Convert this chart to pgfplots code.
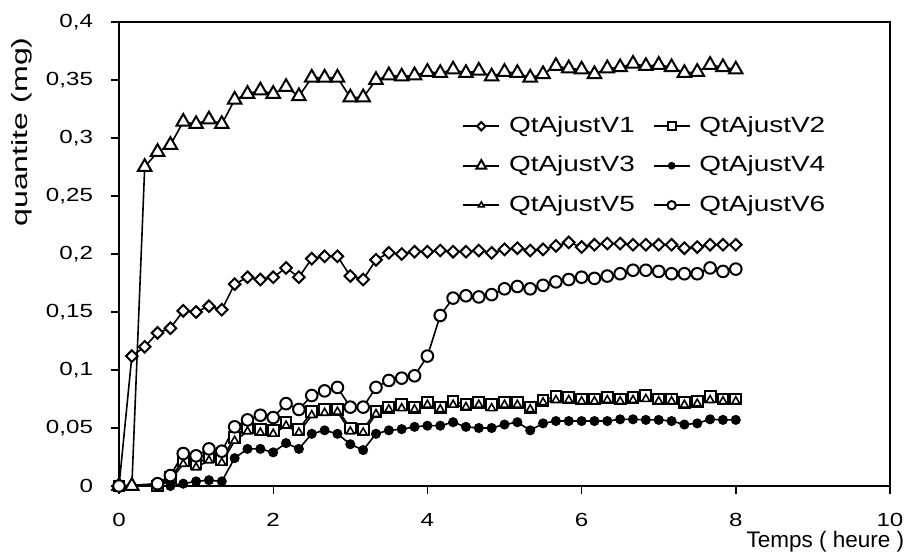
\documentclass[border=0pt]{standalone}
\usepackage{fontspec}
\setmainfont{Liberation Sans}[FakeStretch=1.27]
\newfontfamily\titlefont{Liberation Sans}
\usepackage{graphicx}
\usepackage{pgfplots}
\usepackage{pgfplotstable}
\pgfplotsset{compat=1.18}

% quantities (mg) sampled every 10 minutes
\pgfplotstableread{
t      v1    v2    v3    v4     v5    v6
0      0     0     0     0      0     0
0.1667 0.112 nan   0     nan    nan   nan
0.3333 0.120 nan   0.275 nan    nan   nan
0.5    0.132 0     0.288 0      0     0.002
0.6667 0.136 0.007 0.294 0      0.005 0.009
0.8333 0.151 0.022 0.314 0.002  0.019 0.028
1      0.150 0.019 0.312 0.004  0.016 0.026
1.1667 0.155 0.025 0.316 0.005  0.022 0.032
1.3333 0.152 0.023 0.312 0.004  0.020 0.030
1.5    0.174 0.042 0.333 0.024  0.039 0.051
1.6667 0.180 0.050 0.338 0.032  0.047 0.057
1.8333 0.178 0.049 0.341 0.032  0.046 0.061
2      0.180 0.048 0.338 0.029  0.045 0.059
2.1667 0.188 0.055 0.344 0.037  0.052 0.071
2.3333 0.180 0.049 0.336 0.032  0.046 0.066
2.5    0.196 0.064 0.352 0.045  0.061 0.078
2.6667 0.198 0.066 0.352 0.048  0.063 0.082
2.8333 0.198 0.066 0.352 0.045  0.064 0.085
3      0.181 0.050 0.335 0.036  0.047 0.068
3.1667 0.178 0.049 0.335 0.031  0.046 0.068
3.3333 0.195 0.064 0.350 0.045  0.062 0.085
3.5    0.201 0.068 0.354 0.048  0.066 0.091
3.6667 0.200 0.070 0.353 0.049  0.067 0.093
3.8333 0.202 0.068 0.354 0.051  0.066 0.095
4      0.202 0.072 0.357 0.052  0.070 0.112
4.1667 0.203 0.068 0.356 0.052  0.066 0.147
4.3333 0.202 0.073 0.359 0.055  0.070 0.162
4.5    0.202 0.070 0.356 0.051  0.068 0.164
4.6667 0.203 0.072 0.358 0.050  0.070 0.163
4.8333 0.201 0.070 0.353 0.050  0.067 0.165
5      0.204 0.072 0.357 0.053  0.070 0.170
5.1667 0.205 0.072 0.356 0.055  0.070 0.172
5.3333 0.203 0.068 0.352 0.048  0.066 0.170
5.5    0.204 0.074 0.355 0.054  0.072 0.173
5.6667 0.207 0.077 0.362 0.056  0.074 0.176
5.8333 0.210 0.076 0.360 0.056  0.074 0.178
6      0.206 0.075 0.359 0.056  0.073 0.180
6.1667 0.208 0.075 0.355 0.056  0.073 0.179
6.3333 0.209 0.076 0.360 0.056  0.074 0.181
6.5    0.209 0.075 0.361 0.0575 0.073 0.183
6.6667 0.208 0.076 0.364 0.0575 0.074 0.186
6.8333 0.208 0.078 0.362 0.057  0.075 0.186
7      0.208 0.075 0.363 0.057  0.073 0.185
7.1667 0.208 0.075 0.361 0.056  0.073 0.183
7.3333 0.205 0.072 0.356 0.053  0.070 0.183
7.5    0.206 0.073 0.357 0.054  0.071 0.183
7.6667 0.208 0.077 0.363 0.0575 0.074 0.188
7.8333 0.208 0.075 0.361 0.057  0.073 0.185
8      0.208 0.075 0.359 0.057  0.073 0.187
}\qtdata

\begin{document}
\begin{tikzpicture}
\begin{axis}[
  at={(59.5pt,34pt)}, anchor=south west,
  scale only axis, width=385.5pt, height=232pt,
  xmin=0, xmax=10, ymin=0, ymax=0.4,
  xtick={0,2,4,6,8,10},
  xticklabels={0,2,4,6,8,10},
  ytick={0,0.05,0.1,0.15,0.2,0.25,0.3,0.35,0.4},
  yticklabels={0,{0,05},{0,1},{0,15},{0,2},{0,25},{0,3},{0,35},{0,4}},
  tick align=outside, tick pos=left, major tick length=4pt,
  axis line style={line width=0.7pt},
  every tick/.style={black, line width=0.7pt},
  tick label style={font=\fontsize{9.5}{11}\selectfont},
  xticklabel style={yshift=-6pt},
  yticklabel style={xshift=-5.5pt},
  clip=false,
  xlabel={Temps ( heure )},
  xlabel style={font=\titlefont\fontsize{11.25}{13}\selectfont,
    at={(axis description cs:1.019,-0.121)}, anchor=east, inner sep=0pt},
  ylabel={\scalebox{1.15}[1]{quantite (mg)}},
  ylabel style={font=\fontsize{11}{13}\selectfont,
    at={(axis description cs:-0.126,0.763)}, anchor=center, inner sep=0pt},
  legend columns=2,
  legend cell align=left,
  legend image code/.code={%
    \draw[mark repeat=2, mark phase=2, #1, every mark/.append style={scale=0.72}]
      plot coordinates {(0pt,0pt) (9pt,0pt) (18pt,0pt)};},
  legend style={at={(axis description cs:0.445,0.80)}, anchor=north west,
    draw=none, fill=none, inner sep=0pt,
    font=\fontsize{11}{13}\selectfont,
    nodes={inner sep=0pt, text height=8.5pt, text depth=2.5pt},
    row sep=8.75pt,
    /tikz/every odd column/.style={column sep=4.5pt},
    /tikz/every even column/.style={column sep=9pt}},
  every axis plot/.append style={black, line width=0.8pt},
]
\addplot[mark=square*, mark size=2.05pt,
  mark options={rotate=45, fill=white, line width=1pt}]
  table[x=t, y=v1]{\qtdata};
\addlegendentry{QtAjustV1}
\addplot[mark=square*, mark size=2.7pt,
  mark options={fill=white, line width=1pt}]
  table[x=t, y=v2]{\qtdata};
\addlegendentry{QtAjustV2}
\addplot[mark=triangle*, mark size=3.9pt,
  mark options={fill=white, line width=1pt}]
  table[x=t, y=v3]{\qtdata};
\addlegendentry{QtAjustV3}
\addplot[mark=*, mark size=2.1pt,
  mark options={fill=black}]
  table[x=t, y=v4]{\qtdata};
\addlegendentry{QtAjustV4}
\addplot[mark=triangle*, mark size=2.3pt,
  mark options={fill=white, line width=0.8pt}]
  table[x=t, y=v5]{\qtdata};
\addlegendentry{QtAjustV5}
\addplot[mark=*, mark size=2.9pt,
  mark options={fill=white, line width=1pt}]
  table[x=t, y=v6]{\qtdata};
\addlegendentry{QtAjustV6}
\end{axis}
\pgfresetboundingbox
\path[use as bounding box] (0,0) rectangle (456pt,277pt);
\end{tikzpicture}
\end{document}
